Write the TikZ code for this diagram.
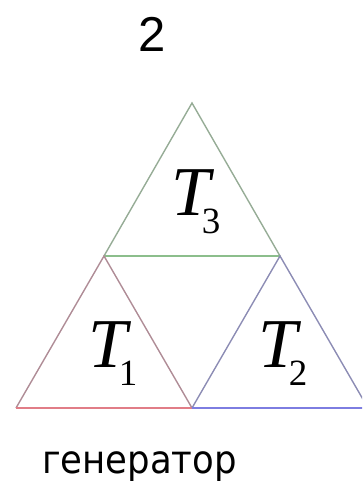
\documentclass[tikz,border=0pt]{standalone}
\usepackage{fontspec}
\setmainfont{Liberation Serif}
\newfontfamily\arialf{Liberation Sans}
\newfontfamily\verdf[FakeStretch=0.91]{DejaVu Sans}
\definecolor{tthreeside}{RGB}{150,172,150}
\definecolor{tthreebase}{RGB}{140,190,140}
\definecolor{toneside}{RGB}{175,140,150}
\definecolor{tonebase}{RGB}{225,125,135}
\definecolor{ttwoside}{RGB}{140,140,180}
\definecolor{ttwobase}{RGB}{125,125,225}
\newcommand{\tlab}[1]{{\fontsize{70}{70}\selectfont\itshape T}\kern-8pt\raisebox{-18pt}{\fontsize{37}{37}\selectfont #1}}
\begin{document}
\begin{tikzpicture}[x=1pt,y=-1pt,
  side/.style={line width=1.4pt},
  lab/.style={anchor=base west,inner sep=0pt,outer sep=0pt}]
\useasboundingbox (0,0) rectangle (362,481);
\clip (0,0) rectangle (362,481);
\coordinate (A) at (16,408);
\coordinate (B) at (192,408);
\coordinate (C) at (368,408);
\coordinate (D) at (104,256);
\coordinate (E) at (280,256);
\coordinate (F) at (192,103);
% T3
\draw[side,tthreeside] (D) -- (F) -- (E);
\draw[side,tthreebase] (D) -- (E);
% T1
\draw[side,toneside] (A) -- (D) -- (B);
\draw[side,tonebase] (A) -- (B);
% T2
\draw[side,ttwoside] (B) -- (E) -- (C);
\draw[side,ttwobase] (B) -- (C);
% labels
\node[lab] (t3) at (171,215) {\tlab{3}};
\node[lab] (t1) at (88,367) {\tlab{1}};
\node[lab] (t2) at (258,367) {\tlab{2}};
\node[anchor=base,inner sep=0pt] (num) at (152.5,52) {\arialf\fontsize{49}{49}\selectfont 2};
\node[lab] (gen) at (42,473) {\verdf\fontsize{39}{39}\selectfont генератор};
\end{tikzpicture}
\end{document}
